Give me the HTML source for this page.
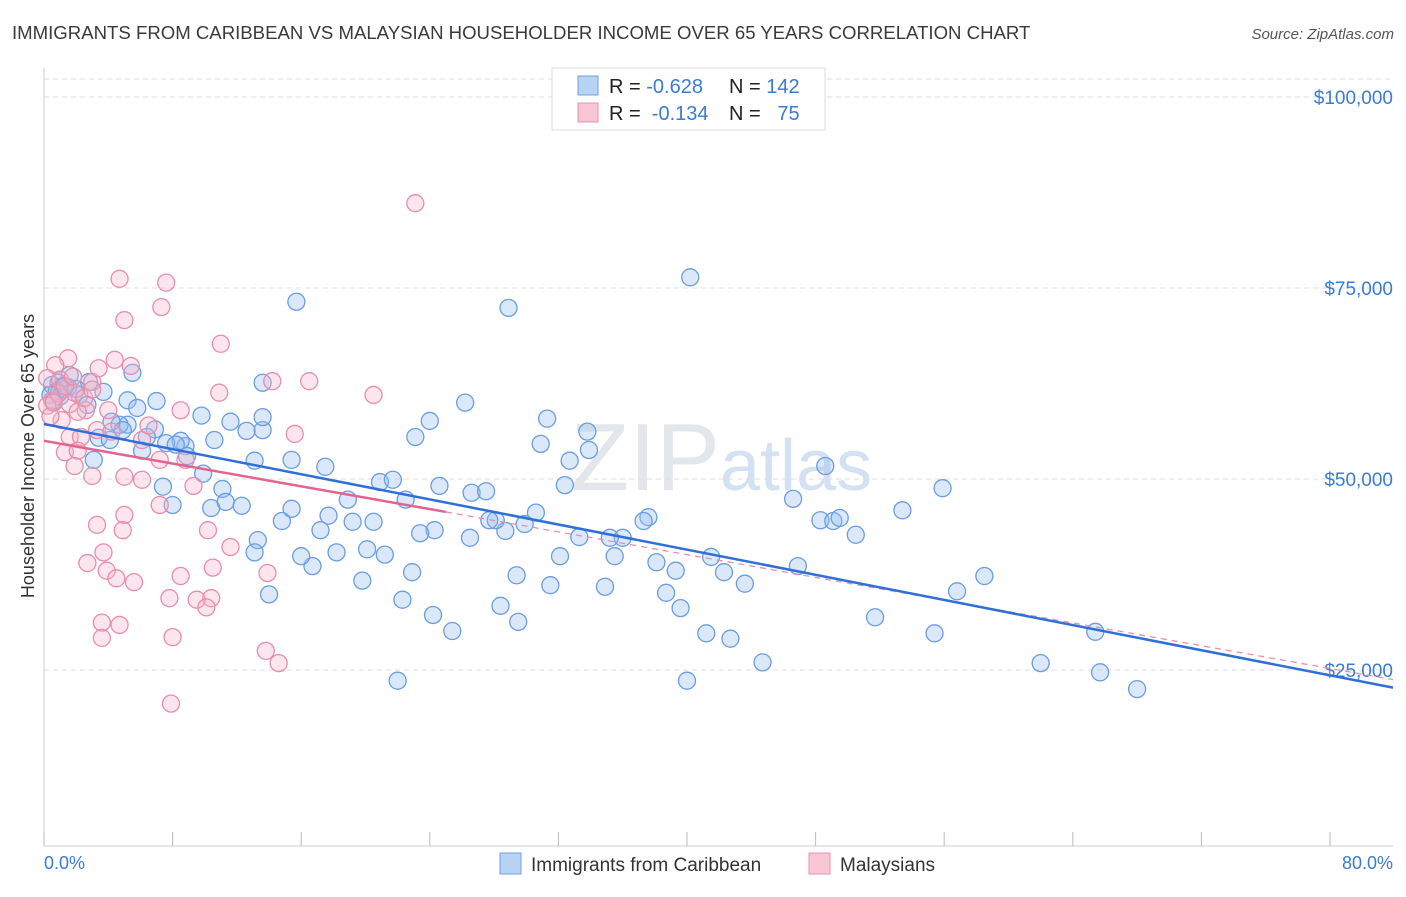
<!DOCTYPE html>
<html><head><meta charset="utf-8"><style>
body{margin:0;background:#fff;font-family:"Liberation Sans",sans-serif;}
svg text{font-family:"Liberation Sans",sans-serif;}
</style></head><body>
<svg id="chart" width="1406" height="892" xmlns="http://www.w3.org/2000/svg">
<text x="12" y="39" font-size="18.6" fill="#3a3a3a">IMMIGRANTS FROM CARIBBEAN VS MALAYSIAN HOUSEHOLDER INCOME OVER 65 YEARS CORRELATION CHART</text>
<text x="1394" y="39" font-size="15" fill="#555" text-anchor="end" font-style="italic">Source: ZipAtlas.com</text>
<text x="720" y="490" font-size="96" fill="#e3e7ec" text-anchor="end" font-family="Liberation Serif">ZIP</text>
<text x="720" y="490" font-size="72" fill="#d3e1f2">atlas</text>
<g id="grid"></g><g id="axes"></g><g id="marks"></g>
<text transform="translate(34,456) rotate(-90)" font-size="18" fill="#333" text-anchor="middle">Householder Income Over 65 years</text>
<text x="44" y="869" font-size="18" fill="#3a7bd5">0.0%</text>
<text x="1393" y="869" font-size="18" fill="#3a7bd5" text-anchor="end">80.0%</text>
<g>
<rect x="552" y="68" width="273" height="62" fill="#fff" stroke="#ddd"/>
<rect x="578" y="76" width="20" height="19" fill="#b8d3f3" stroke="#6fa0e0"/>
<rect x="578" y="103" width="20" height="19" fill="#f9c6d5" stroke="#ea90ae"/>
<text x="609" y="93" font-size="20" fill="#222">R = <tspan fill="#3a7bd5">-0.628</tspan></text>
<text x="729" y="93" font-size="20" fill="#222">N = <tspan fill="#3a7bd5">142</tspan></text>
<text x="609" y="120" font-size="20" fill="#222" xml:space="preserve">R =  <tspan fill="#3a7bd5">-0.134</tspan></text>
<text x="729" y="120" font-size="20" fill="#222" xml:space="preserve">N =   <tspan fill="#3a7bd5">75</tspan></text>
</g>
<g>
<rect x="500" y="853" width="21" height="21" fill="#b8d3f3" stroke="#6fa0e0"/>
<text x="531" y="871" font-size="19" fill="#333">Immigrants from Caribbean</text>
<rect x="809" y="853" width="21" height="21" fill="#f9c6d5" stroke="#ea90ae"/>
<text x="840" y="871" font-size="19" fill="#333">Malaysians</text>
</g>
</svg>
<script>
const blueX=[40.2,15.7,28.9,48.6,55.9,53.4,58.5,56.8,51.7,55.4,62.0,65.4,65.7,68.0,46.6,48.3,49.1,49.5,50.5,46.9,44.7,42.7,41.2,40.0,42.3,43.6,41.5,39.3,38.7,39.6,38.1,37.6,37.3,36.0,35.2,35.5,34.9,33.3,32.1,31.5,33.9,33.8,32.7,30.9,31.3,32.4,30.6,29.9,28.7,28.1,27.7,26.6,27.5,26.5,29.4,28.4,29.5,25.4,24.2,22.9,22.3,22.0,21.2,19.8,20.1,20.9,21.7,22.5,20.5,19.2,18.9,17.7,18.2,17.2,16.7,16.0,14.0,13.3,14.8,15.4,17.5,15.4,13.1,13.6,13.6,13.6,12.6,11.6,10.6,9.8,8.8,8.5,7.6,8.2,7.4,8.0,10.4,9.9,11.1,11.3,12.3,13.1,24.0,23.1,26.2,24.3,24.6,23.4,7.0,5.5,5.2,5.8,6.9,6.4,6.1,5.2,4.7,4.2,3.7,3.1,2.2,1.6,0.9,0.5,1.2,2.7,2.8,3.4,4.1,4.9,8.9,0.8,1.0,0.4,1.5,0.6,2.0];
const blueV=[76.4,73.2,72.4,51.7,48.8,45.9,37.3,35.3,31.9,29.8,25.9,30.0,24.7,22.5,47.4,44.6,44.5,44.9,42.7,38.6,26.0,29.1,29.8,23.6,37.8,36.3,39.8,38.0,35.1,33.1,39.1,45.0,44.5,42.3,42.3,39.9,35.9,42.4,39.9,36.1,53.8,56.2,52.4,54.6,57.9,49.2,45.6,44.1,43.2,44.6,44.6,48.2,48.4,42.3,37.4,33.4,31.3,30.1,32.2,37.8,34.2,23.6,40.1,36.7,40.8,49.6,49.9,47.3,44.4,44.4,47.3,45.2,40.4,43.3,38.6,39.9,34.9,42.0,44.5,46.1,51.6,52.5,52.4,56.4,58.1,62.6,56.3,57.5,55.1,58.3,54.3,55.0,54.7,54.5,49.0,46.6,46.2,50.7,48.7,47.0,46.5,40.4,57.6,55.5,60.0,43.3,49.1,42.9,60.2,63.9,60.3,59.3,56.5,55.5,53.7,57.1,57.1,57.5,61.4,52.5,61.0,63.6,62.6,62.3,62.2,59.7,62.7,55.4,55.1,56.4,53.0,61.5,60.8,61.0,62.0,60.2,61.8];
const pinkX=[23.1,4.7,7.6,7.3,5.0,11.0,4.4,5.4,1.5,0.7,0.2,1.0,3.0,3.4,0.5,0.2,1.6,2.6,4.0,1.9,10.9,14.2,16.5,20.5,8.5,1.1,2.1,3.3,4.2,6.1,1.6,2.3,15.6,1.3,2.1,1.9,7.2,8.8,3.0,5.0,6.1,9.3,7.2,3.3,5.0,10.2,11.6,4.9,3.7,2.7,3.9,4.5,5.6,8.5,10.5,13.9,7.8,10.4,9.5,10.1,3.6,4.7,3.6,8.0,13.8,14.6,7.9,0.9,1.3,2.5,0.4,6.5,1.8,3.0,0.6];
const pinkV=[86.1,76.2,75.7,72.5,70.8,67.7,65.6,64.8,65.8,64.9,63.2,63.0,62.7,64.5,60.3,59.6,59.8,59.0,59.0,61.3,61.3,62.8,62.8,61.0,59.0,57.7,58.8,56.4,56.2,55.1,55.5,55.5,55.9,53.5,53.7,51.7,52.5,52.5,50.4,50.3,49.9,49.1,46.6,44.0,45.3,43.3,41.1,43.3,40.4,39.0,38.0,37.0,36.5,37.3,38.4,37.7,34.4,34.4,34.2,33.2,31.2,30.9,29.2,29.3,27.5,25.9,20.6,61.2,62.1,60.6,58.2,57.0,63.4,61.7,60.0];
const yTicks=[25000,50000,75000,100000];
const yTickLabels=["$25,000","$50,000","$75,000","$100,000"];
const xTicks=[0,8,16,24,32,40,48,56,64,72,80];
const blueTrend=[57.2,24.3];
const pinkTrend=[55.0,25.2];
const pinkSolidEnd=25;

const NS="http://www.w3.org/2000/svg";
const sx=p=>44+p/80*1286;
const sy=k=>861-k*1000/25000*191;
function mk(tag,attrs,parent){const e=document.createElementNS(NS,tag);for(const k in attrs)e.setAttribute(k,attrs[k]);parent.appendChild(e);return e;}
const grid=document.getElementById('grid'),axes=document.getElementById('axes'),marks=document.getElementById('marks');
let tl=mk('line',{x1:44,x2:1393,y1:79,y2:79,stroke:'#ddd','stroke-dasharray':'5,4'},grid);


yTicks.forEach((v,i)=>{
  const y=sy(v/1000);
  const l=mk('line',{x1:44,x2:1393,y1:y,y2:y,stroke:'#ddd','stroke-dasharray':'5,4'},grid);
  
  
  const t=mk('text',{x:1393,y:y+7,'font-size':19,fill:'#3a7bd5','text-anchor':'end'},axes);
  t.textContent=yTickLabels[i];
  
  
});
let ya=mk('line',{x1:44,x2:44,y1:68,y2:846,stroke:'#ccc'},axes);


let xa=mk('line',{x1:44,x2:1393,y1:846,y2:846,stroke:'#ccc'},axes);


xTicks.forEach(p=>{
  const t=mk('line',{x1:sx(p),x2:sx(p),y1:832,y2:846,stroke:'#bbb'},axes);
  
  
});
blueX.forEach((x,i)=>{
  const c=mk('circle',{cx:sx(x),cy:sy(blueV[i]),r:8.5,fill:'rgba(150,190,240,0.35)',stroke:'#6b9de0','stroke-width':1.3},marks);
  
  
});
pinkX.forEach((x,i)=>{
  const c=mk('circle',{cx:sx(x),cy:sy(pinkV[i]),r:8.5,fill:'rgba(246,180,200,0.35)',stroke:'#e88eab','stroke-width':1.3},marks);
  
  
});
const pAt=p=>pinkTrend[0]+(pinkTrend[1]-pinkTrend[0])*p/80;
let pd=mk('line',{x1:sx(pinkSolidEnd),y1:sy(pAt(pinkSolidEnd)),x2:1393,y2:sy(pAt((1393-44)/1286*80)),stroke:'#e88eab','stroke-width':1.3,'stroke-dasharray':'6,5'},marks);


const bAt=p=>blueTrend[0]+(blueTrend[1]-blueTrend[0])*p/80;
let bl=mk('line',{x1:sx(0),y1:sy(bAt(0)),x2:1393,y2:sy(bAt((1393-44)/1286*80)),stroke:'#2f6fd8','stroke-width':2.5},marks);


let pl=mk('line',{x1:sx(0),y1:sy(pAt(0)),x2:sx(pinkSolidEnd),y2:sy(pAt(pinkSolidEnd)),stroke:'#e5628e','stroke-width':2.5},marks);


</script>
</body></html>
